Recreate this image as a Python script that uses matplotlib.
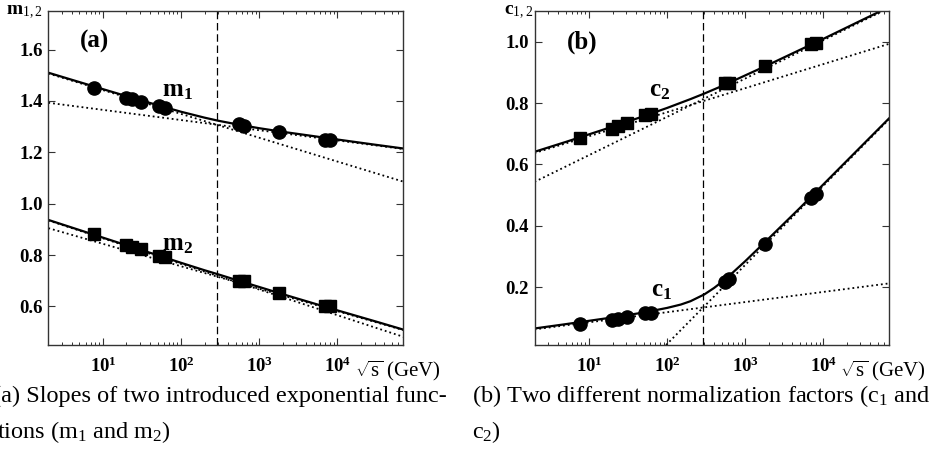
import matplotlib
matplotlib.use("Agg")
import matplotlib.pyplot as plt
from matplotlib.ticker import FixedLocator, FixedFormatter, LogLocator, NullFormatter

plt.rcParams['font.family'] = ['Liberation Serif', 'DejaVu Serif']
plt.rcParams['mathtext.fontset'] = 'custom'
plt.rcParams['mathtext.rm'] = 'Liberation Serif'
plt.rcParams['mathtext.it'] = 'Liberation Serif:italic'
plt.rcParams['mathtext.bf'] = 'Liberation Serif:bold'

# collision energies sqrt(s) in GeV
energy = [7.7, 19.6, 23.5, 30.7, 52.8, 62.4, 546, 630, 1800, 7000, 8000]

# fitted parameters at each energy
m1 = [1.451, 1.412, 1.406, 1.397, 1.380, 1.373, 1.309, 1.303, 1.278, 1.250, 1.248]
m2 = [0.882, 0.840, 0.833, 0.823, 0.797, 0.792, 0.700, 0.698, 0.653, 0.603, 0.600]
c1 = [0.081, 0.094, 0.096, 0.103, 0.114, 0.116, 0.217, 0.225, 0.340, 0.489, 0.502]
c2 = [0.685, 0.717, 0.725, 0.734, 0.761, 0.764, 0.864, 0.867, 0.921, 0.991, 0.995]

# solid fit curves
m_fit_x = [2, 10, 30, 50, 100, 200, 300, 500, 1000, 2000, 5000, 10000, 30000, 70000]
m1_fit = [1.510, 1.446, 1.403, 1.384, 1.358, 1.335, 1.323, 1.310, 1.294, 1.280, 1.263, 1.250, 1.230, 1.215]
m2_fit = [0.937, 0.868, 0.821, 0.800, 0.770, 0.741, 0.725, 0.704, 0.676, 0.648, 0.612, 0.585, 0.543, 0.510]

c2_fit_x = [2, 5, 10, 20, 50, 100, 200, 300, 500, 1000, 2000, 5000, 10000, 30000, 70000]
c2_fit = [0.641, 0.673, 0.698, 0.723, 0.757, 0.784, 0.813, 0.831, 0.855, 0.890, 0.925, 0.973, 1.009, 1.068, 1.113]

c1_fit_x = [2, 5, 10, 20, 50, 100, 150, 200, 300, 400, 500, 700, 1000, 2000, 5000, 10000, 30000, 70000]
c1_fit = [0.065, 0.079, 0.090, 0.101, 0.117, 0.132, 0.143, 0.154, 0.176, 0.197, 0.216, 0.248, 0.284, 0.358, 0.457, 0.534, 0.656, 0.750]

# dotted straight lines (low and high energy regimes), end points
line_x = [2, 70000]
m1_low = [1.507, 1.086]
m1_high = [1.393, 1.213]
m2_low = [0.905, 0.508]
m2_high = [0.935, 0.482]
c2_low = [0.637, 0.993]
c2_high = [0.543, 1.110]
c1_low = [0.062, 0.212]
c1_high_x = [97, 70000]
c1_high = [0.011, 0.747]

split_energy = 290

xticks = [10, 100, 1000, 10000]
xticklabels = [r'$\mathbf{10^{1}}$', r'$\mathbf{10^{2}}$', r'$\mathbf{10^{3}}$', r'$\mathbf{10^{4}}$']


def style_axes(ax, yticks):
    ax.set_xscale('log')
    ax.set_xlim(2, 70000)
    ax.xaxis.set_major_locator(FixedLocator(xticks))
    ax.xaxis.set_major_formatter(FixedFormatter(xticklabels))
    ax.xaxis.set_minor_locator(LogLocator(base=10, subs=range(2, 10), numticks=20))
    ax.xaxis.set_minor_formatter(NullFormatter())
    ax.set_yticks(yticks)
    ax.set_yticklabels(['%.1f' % v for v in yticks], fontweight='bold')
    ax.tick_params(which='both', direction='in', top=True, right=True, color='#333333')
    ax.tick_params(which='major', length=5, width=0.8, labelsize=13.5)
    ax.tick_params(which='minor', length=2.5, width=0.7)
    ax.tick_params(axis='x', pad=8)
    ax.tick_params(axis='y', pad=4)
    for s in ax.spines.values():
        s.set_color('#333333')
        s.set_linewidth(1.0)
    ax.axvline(split_energy, color='black', linestyle=(0, (6, 3)), linewidth=0.9)


fig = plt.figure(figsize=(9.33, 4.72), dpi=100)
ax1 = fig.add_axes([0.0518, 0.269, 0.3805, 0.7076])
ax2 = fig.add_axes([0.5729, 0.269, 0.380, 0.7076])

# panel (a): slopes
ax1.plot(line_x, m1_low, ':', color='black', lw=1.3)
ax1.plot(line_x, m1_high, ':', color='black', lw=1.3)
ax1.plot(line_x, m2_low, ':', color='black', lw=1.3)
ax1.plot(line_x, m2_high, ':', color='black', lw=1.3)
ax1.plot(m_fit_x, m1_fit, '-', color='black', lw=1.6)
ax1.plot(m_fit_x, m2_fit, '-', color='black', lw=1.6)
ax1.plot(energy, m1, 'o', color='black', ms=9.5)
ax1.plot(energy, m2, 's', color='black', ms=8)
ax1.set_ylim(0.45, 1.75)
style_axes(ax1, [0.6, 0.8, 1.0, 1.2, 1.4, 1.6])
ax1.text(57, 1.44, r'$\mathbf{m_1}$', fontsize=18, ha='left', va='center')
ax1.text(57, 0.84, r'$\mathbf{m_2}$', fontsize=18, ha='left', va='center')
ax1.text(0.09, 0.91, '(a)', transform=ax1.transAxes, fontsize=18, fontweight='bold', va='center')
ax1.text(-0.015, 0.997, r'$\mathbf{m}_{1,2}$', transform=ax1.transAxes, fontsize=14,
         ha='right', va='center')
ax1.text(0.865, -0.078, r'$\sqrt{\mathrm{s}}\ (\mathrm{GeV})$', transform=ax1.transAxes,
         fontsize=15, ha='left', va='center')

# panel (b): normalization factors
ax2.plot(line_x, c2_low, ':', color='black', lw=1.3)
ax2.plot(line_x, c2_high, ':', color='black', lw=1.3)
ax2.plot(line_x, c1_low, ':', color='black', lw=1.3)
ax2.plot(c1_high_x, c1_high, ':', color='black', lw=1.3)
ax2.plot(c2_fit_x, c2_fit, '-', color='black', lw=1.6)
ax2.plot(c1_fit_x, c1_fit, '-', color='black', lw=1.6)
ax2.plot(energy, c1, 'o', color='black', ms=9.5)
ax2.plot(energy, c2, 's', color='black', ms=8)
ax2.set_ylim(0.011, 1.1)
style_axes(ax2, [0.2, 0.4, 0.6, 0.8, 1.0])
ax2.text(59, 0.839, r'$\mathbf{c_2}$', fontsize=18, ha='left', va='center')
ax2.text(63, 0.187, r'$\mathbf{c_1}$', fontsize=18, ha='left', va='center')
ax2.text(0.09, 0.905, '(b)', transform=ax2.transAxes, fontsize=18, fontweight='bold', va='center')
ax2.text(-0.005, 0.997, r'$\mathbf{c}_{1,2}$', transform=ax2.transAxes, fontsize=14,
         ha='right', va='center')
ax2.text(0.862, -0.078, r'$\sqrt{\mathrm{s}}\ (\mathrm{GeV})$', transform=ax2.transAxes,
         fontsize=15, ha='left', va='center')

# captions
W, H = 933.0, 472.0
fig.text(-7 / W, 1 - 396 / H, '(a) Slopes of two introduced exponential func-', fontsize=17.5, va='center')
fig.text(-3 / W, 1 - 432 / H, r'tions (m$_1$ and m$_2$)', fontsize=17.5, va='center')
fig.text(472 / W, 1 - 396 / H, r'(b) Two different normalization factors (c$_1$ and', fontsize=17.5, va='center')
fig.text(472 / W, 1 - 432 / H, r'c$_2$)', fontsize=17.5, va='center')

fig.savefig('out.png', dpi=100)
